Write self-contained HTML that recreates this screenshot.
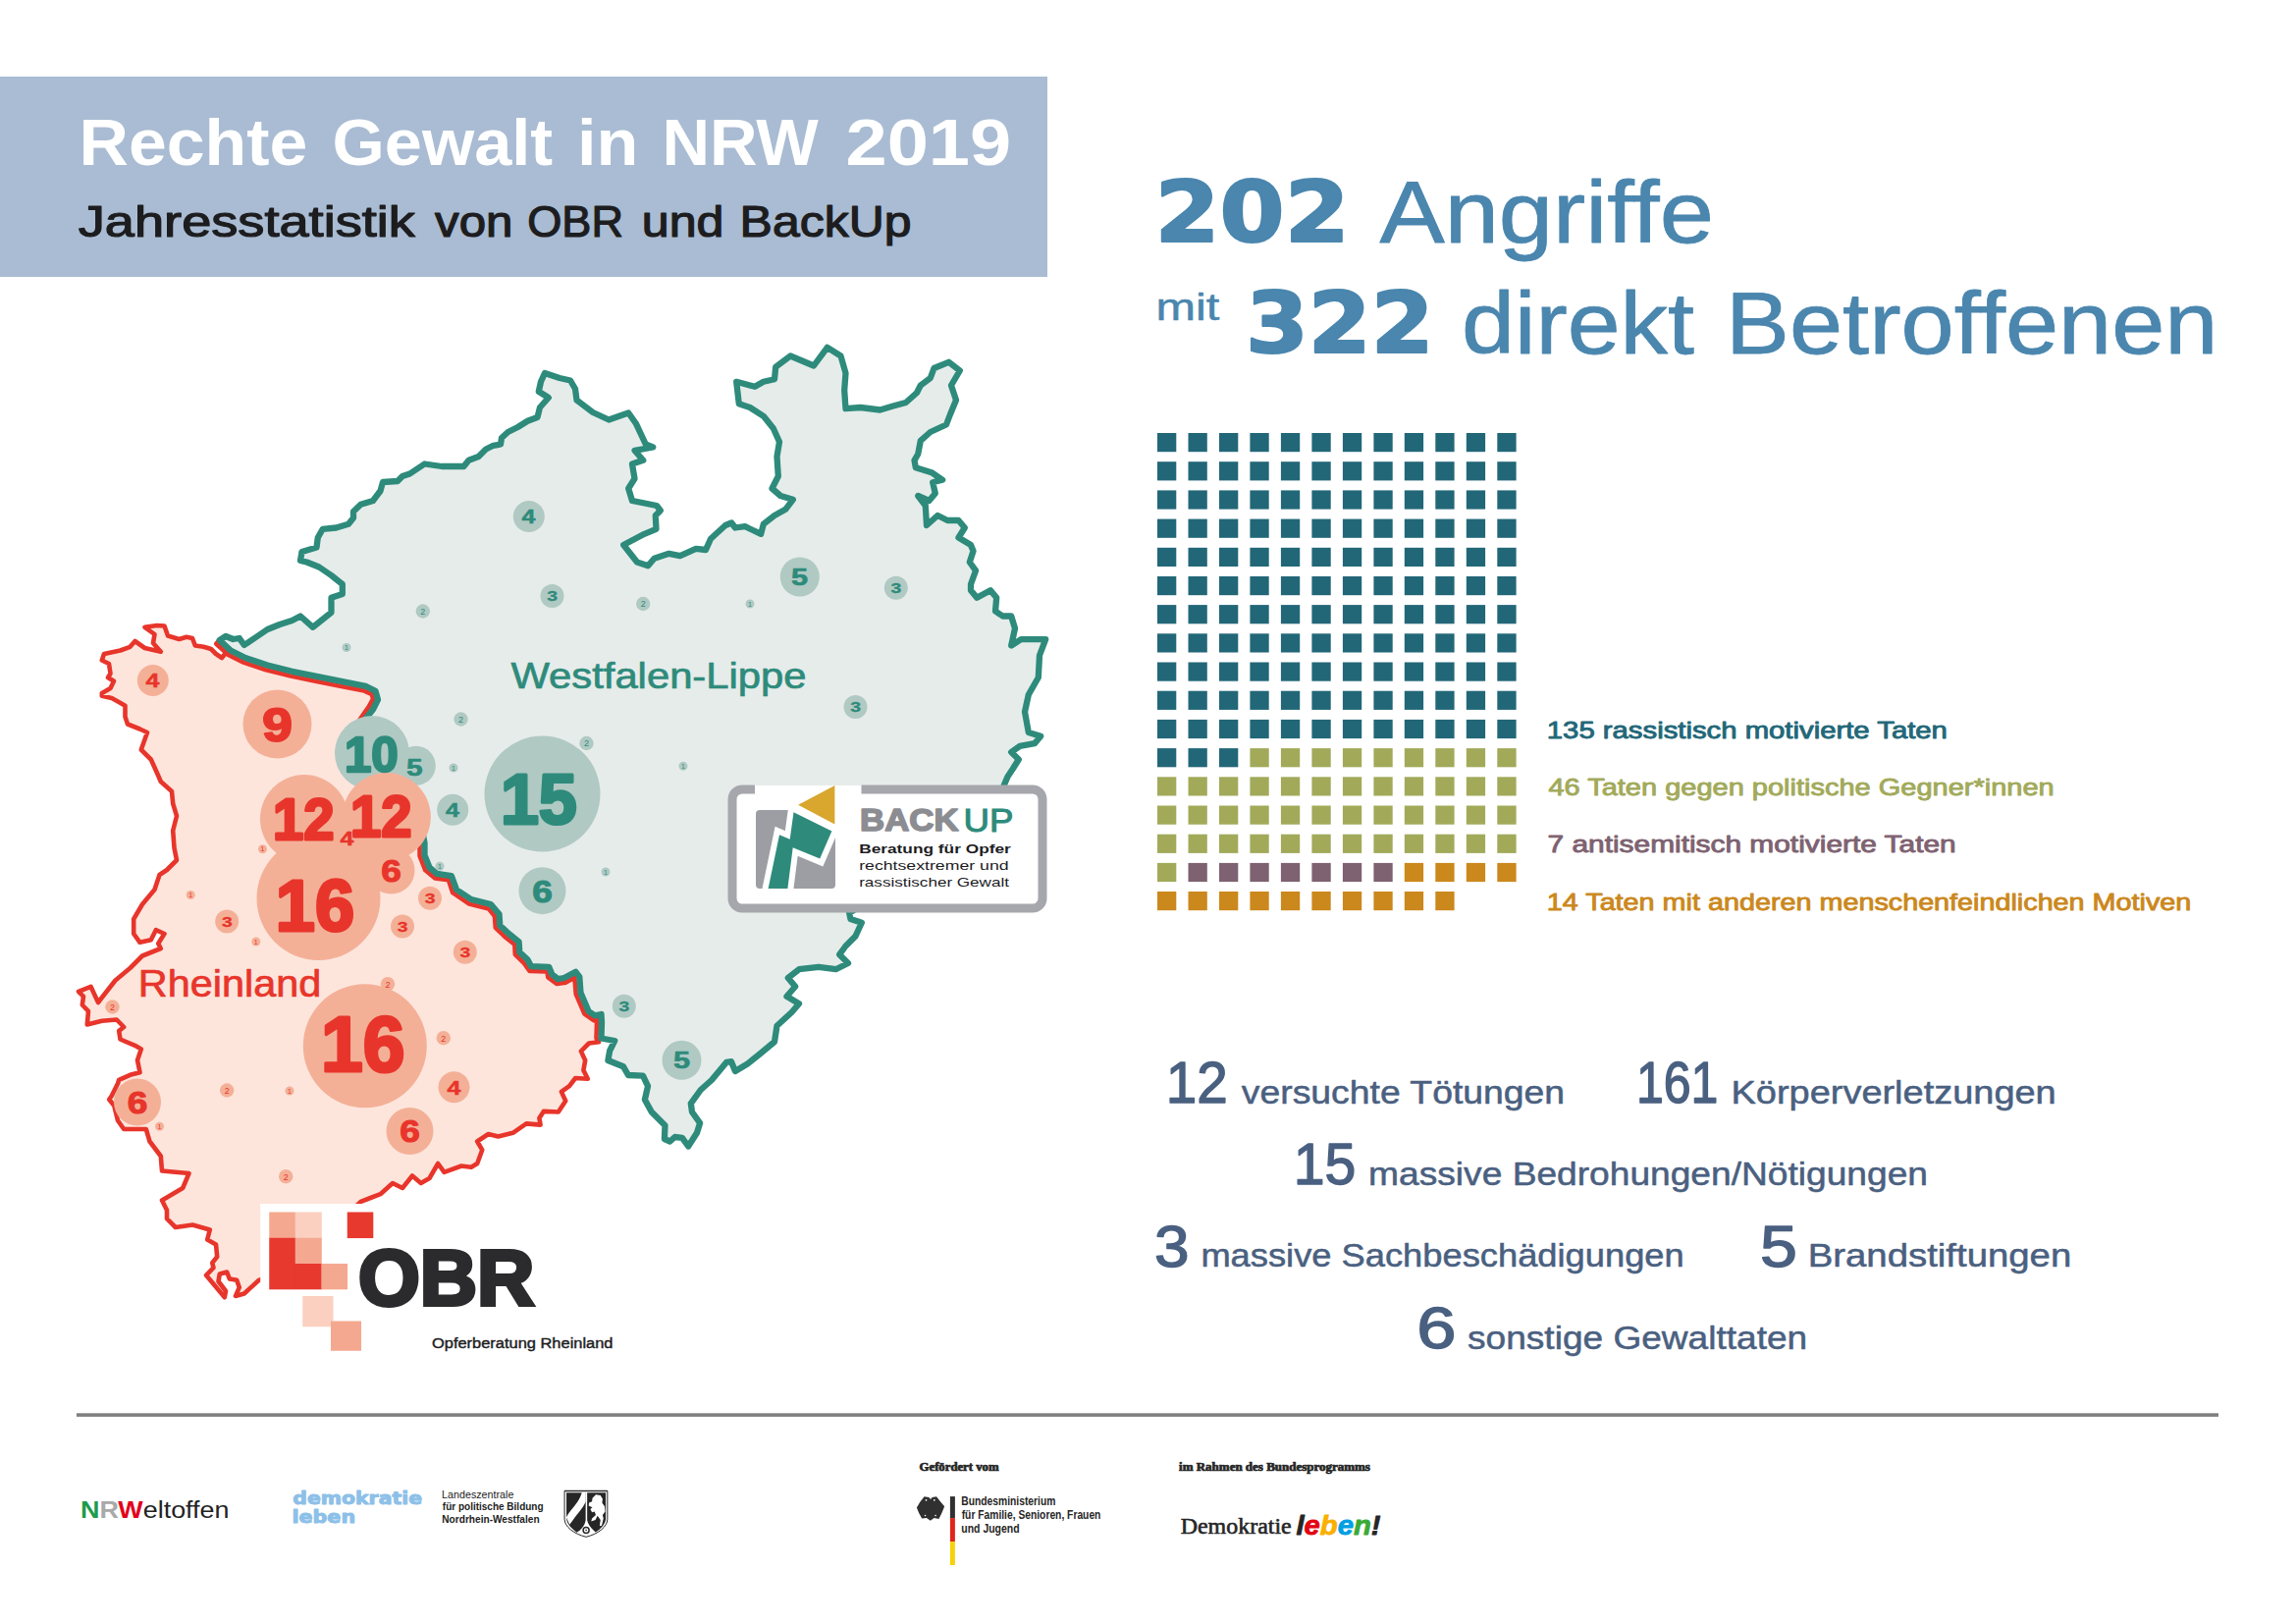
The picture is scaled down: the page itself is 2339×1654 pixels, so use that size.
<!DOCTYPE html>
<html lang="de"><head><meta charset="utf-8"><title>Rechte Gewalt in NRW 2019</title>
<style>html,body{margin:0;padding:0;background:#fff}svg{display:block}</style></head><body>
<svg width="2339" height="1654" viewBox="0 0 2339 1654">
<rect width="2339" height="1654" fill="#fff"/>
<rect x="0" y="78" width="1067" height="204" fill="#a9bcd3"/>
<text x="80.5" y="167.5" font-family="'Liberation Sans', sans-serif" font-size="67" fill="#fff" font-weight="bold" textLength="232.9" lengthAdjust="spacingAndGlyphs">Rechte</text>
<text x="338.5" y="167.5" font-family="'Liberation Sans', sans-serif" font-size="67" fill="#fff" font-weight="bold" textLength="224.6" lengthAdjust="spacingAndGlyphs">Gewalt</text>
<text x="587.9" y="167.5" font-family="'Liberation Sans', sans-serif" font-size="67" fill="#fff" font-weight="bold" textLength="62.4" lengthAdjust="spacingAndGlyphs">in</text>
<text x="674.4" y="167.5" font-family="'Liberation Sans', sans-serif" font-size="67" fill="#fff" font-weight="bold" textLength="159.4" lengthAdjust="spacingAndGlyphs">NRW</text>
<text x="861.5" y="167.5" font-family="'Liberation Sans', sans-serif" font-size="67" fill="#fff" font-weight="bold" textLength="168.7" lengthAdjust="spacingAndGlyphs">2019</text>
<text x="79.8" y="241.4" font-family="'Liberation Sans', sans-serif" font-size="43.82" fill="#1d1d1f" textLength="343.1" lengthAdjust="spacingAndGlyphs" stroke="#1d1d1f" stroke-width="1.2" stroke-linejoin="round">Jahresstatistik</text>
<text x="443.1" y="241.4" font-family="'Liberation Sans', sans-serif" font-size="43.82" fill="#1d1d1f" textLength="79.4" lengthAdjust="spacingAndGlyphs" stroke="#1d1d1f" stroke-width="1.2" stroke-linejoin="round">von</text>
<text x="537.3" y="241.4" font-family="'Liberation Sans', sans-serif" font-size="43.82" fill="#1d1d1f" textLength="97.7" lengthAdjust="spacingAndGlyphs" stroke="#1d1d1f" stroke-width="1.2" stroke-linejoin="round">OBR</text>
<text x="653.8" y="241.4" font-family="'Liberation Sans', sans-serif" font-size="43.82" fill="#1d1d1f" textLength="83.7" lengthAdjust="spacingAndGlyphs" stroke="#1d1d1f" stroke-width="1.2" stroke-linejoin="round">und</text>
<text x="753.6" y="241.4" font-family="'Liberation Sans', sans-serif" font-size="43.82" fill="#1d1d1f" textLength="174.9" lengthAdjust="spacingAndGlyphs" stroke="#1d1d1f" stroke-width="1.2" stroke-linejoin="round">BackUp</text>
<polygon points="222.5,653.0 230.0,665.0 226.0,670.0 220.0,666.0 215.0,661.0 207.5,658.8 198.8,657.5 196.0,650.0 190.0,648.8 182.5,651.0 171.0,647.5 167.5,637.5 160.0,637.0 147.5,638.8 157.5,646.0 156.0,655.0 163.8,663.8 147.5,660.0 137.5,653.0 132.5,658.8 122.5,662.5 106.0,666.0 103.8,672.5 111.0,676.0 112.5,686.0 110.0,690.0 116.0,693.8 112.5,701.0 103.8,706.0 103.8,708.8 113.8,711.0 121.0,715.0 127.5,718.8 127.5,730.0 130.0,737.5 142.5,742.5 150.0,746.0 143.8,763.5 153.8,773.5 160.0,787.2 163.8,796.0 175.0,806.0 176.2,818.5 180.0,831.0 176.2,846.0 177.5,863.5 180.0,876.0 170.0,886.0 162.5,891.0 157.5,906.0 145.0,921.0 136.2,936.0 136.2,951.0 142.5,959.8 153.8,957.2 158.8,947.2 167.5,951.0 161.2,961.0 163.8,966.0 145.0,973.5 132.5,986.0 117.5,998.5 103.8,1016.0 100.0,1021.0 92.5,1004.8 80.0,1009.8 85.0,1014.8 83.8,1023.5 90.0,1029.8 88.8,1043.5 103.8,1039.8 118.8,1038.5 126.2,1046.0 121.2,1049.8 122.5,1058.5 137.5,1064.8 143.8,1068.5 140.0,1079.8 142.5,1092.2 132.5,1094.8 121.2,1099.8 120.0,1103.5 113.8,1116.0 111.2,1119.8 116.2,1126.0 120.0,1141.2 126.2,1150.0 148.8,1150.0 152.5,1162.5 163.8,1177.5 165.0,1192.5 192.5,1195.0 186.2,1210.0 165.0,1222.5 170.0,1232.5 170.0,1241.2 178.8,1250.0 196.2,1247.5 213.8,1252.5 211.2,1262.5 220.0,1267.5 221.2,1280.0 216.2,1286.2 217.5,1291.2 210.0,1298.8 228.8,1321.2 230.0,1315.0 222.5,1305.0 223.8,1297.5 231.2,1295.6 233.8,1302.5 241.2,1303.8 243.8,1311.2 240.0,1320.0 248.8,1317.5 263.8,1303.8 300.0,1290.0 340.0,1250.0 367.5,1223.8 377.5,1220.0 387.5,1216.2 400.0,1205.0 410.0,1210.0 420.0,1197.5 428.8,1205.0 437.5,1200.0 446.2,1185.0 452.5,1193.8 470.0,1187.5 480.0,1188.8 486.2,1185.0 491.2,1171.2 486.2,1162.5 497.5,1155.0 507.5,1157.5 522.5,1153.8 536.2,1144.4 550.6,1145.6 549.4,1138.8 553.8,1131.9 568.8,1132.5 576.2,1121.2 571.9,1111.9 580.0,1106.2 586.2,1098.0 598.8,1098.8 594.4,1090.0 596.2,1080.0 591.9,1070.6 600.0,1062.5 610.0,1061.2 607.5,1057.3 608.0,1041.2 608.9,1036.5 605.1,1039.3 595.4,1032.7 586.7,1012.3 585.4,995.9 586.9,994.8 576.6,1000.6 567.1,1002.0 558.3,995.3 557.4,989.5 539.5,988.9 533.5,980.5 524.8,972.0 524.3,961.8 515.4,955.0 504.8,944.8 503.9,933.0 497.7,925.4 478.0,920.6 461.2,909.2 456.8,896.1 443.2,894.4 433.3,886.3 427.6,872.0 427.5,859.0 425.2,846.5 417.5,827.2 405.7,807.6 390.7,782.6 375.6,757.4 365.0,735.0 375.8,719.7 380.0,711.8 378.8,707.1 371.1,703.6 346.5,698.7 321.5,693.7 296.4,688.6 271.1,682.3 248.1,674.6 232.2,666.6 220.3,655.7" fill="#fde5dc" stroke="#e8352b" stroke-width="4.6" stroke-linejoin="round"/>
<polygon points="223.8,652.0 230.0,648.0 237.5,651.0 243.8,650.0 248.8,657.0 260.0,649.5 272.5,641.0 285.0,636.0 297.5,632.0 306.0,627.5 318.8,638.8 337.5,623.8 337.5,608.8 348.8,605.0 348.8,595.0 337.5,586.0 325.0,577.5 312.5,572.5 306.0,571.0 307.5,562.0 322.5,557.5 323.8,547.5 328.8,538.8 342.5,537.5 355.0,533.8 360.0,527.5 360.0,521.0 367.5,513.8 380.0,510.0 387.5,500.0 390.0,491.0 405.0,490.0 410.0,485.0 417.5,482.5 432.5,472.5 450.0,475.0 472.5,475.0 477.5,468.8 487.5,465.0 495.0,457.5 502.5,453.8 510.0,452.5 511.0,446.0 517.5,440.0 527.5,435.0 537.5,428.8 547.5,425.0 550.0,415.0 558.8,405.0 548.8,398.8 551.0,388.8 555.0,380.0 570.0,385.0 581.0,387.5 586.0,396.0 587.5,407.5 604.0,420.0 620.2,427.5 640.2,420.5 647.8,431.2 657.8,452.5 665.2,455.5 646.5,458.8 655.2,468.8 644.0,472.5 646.5,487.5 640.2,497.5 644.0,510.0 669.0,515.0 672.8,520.0 667.8,525.0 668.5,538.8 656.5,543.8 635.2,555.0 649.0,572.5 660.2,576.2 666.5,568.8 681.5,563.8 692.8,566.2 709.0,558.8 719.0,560.0 724.0,548.8 739.0,535.0 745.2,532.5 749.0,537.5 759.0,536.2 775.2,543.8 777.8,533.8 789.0,525.0 800.2,518.8 807.8,508.8 795.2,505.0 786.5,497.5 792.8,485.0 791.5,465.0 794.0,450.0 787.8,436.2 777.8,423.8 764.0,415.0 752.8,411.2 750.2,388.8 769.0,393.8 777.8,388.8 789.0,386.2 790.2,373.8 805.2,362.5 829.0,372.5 842.8,353.8 856.5,362.5 861.5,380.0 860.2,397.5 861.5,416.2 876.5,415.0 896.5,417.5 909.0,413.8 922.8,410.0 934.0,400.0 937.8,392.5 947.8,385.0 951.5,375.0 966.5,368.8 977.8,377.5 969.0,392.5 974.0,407.5 967.8,422.5 964.0,432.5 947.8,440.0 937.8,448.8 935.2,462.5 931.5,468.8 932.8,476.2 949.0,481.2 960.2,488.8 950.2,491.2 952.8,502.5 946.5,510.0 935.2,505.0 942.8,515.0 944.0,535.0 955.2,525.0 965.2,530.0 976.5,530.0 982.8,537.5 976.5,547.5 989.0,555.0 991.5,561.2 987.8,572.5 994.0,581.2 989.0,595.0 989.0,601.2 995.2,608.8 1009.0,601.2 1015.2,608.8 1014.0,622.5 1021.5,627.5 1030.2,627.5 1034.0,640.0 1030.2,657.5 1040.2,651.2 1065.2,651.2 1059.0,667.5 1057.8,690.0 1047.8,707.5 1044.0,725.0 1047.8,746.0 1060.2,749.8 1054.0,757.2 1039.0,759.8 1030.2,766.0 1037.8,773.5 1031.5,783.5 1026.5,791.0 1022.8,799.8 1015.0,830.0 985.0,870.0 935.0,900.0 890.0,915.0 865.2,929.8 866.5,936.0 877.8,939.8 871.5,953.5 861.5,963.5 855.2,972.2 864.0,981.0 851.5,987.2 834.0,984.8 814.0,987.2 802.8,996.0 810.2,1004.8 801.5,1014.8 814.0,1022.2 806.5,1031.0 791.5,1044.8 789.0,1061.0 774.0,1073.5 761.5,1083.5 749.0,1091.0 745.0,1081.2 740.0,1081.9 725.0,1100.0 713.8,1110.0 703.8,1123.8 705.0,1132.5 713.1,1143.8 710.0,1153.8 701.2,1167.5 695.0,1158.8 687.5,1158.0 682.5,1162.5 676.9,1160.0 677.5,1146.2 663.8,1132.5 656.9,1120.0 660.0,1106.2 655.0,1095.6 640.0,1095.0 635.0,1086.2 619.4,1080.0 621.2,1070.0 626.2,1060.0 612.5,1057.5 613.0,1041.2 612.5,1033.0 606.2,1034.4 599.6,1030.0 591.5,1011.0 590.3,994.8 586.5,989.8 574.7,996.0 568.5,997.2 562.3,992.3 559.2,984.8 541.1,984.2 537.4,977.3 529.3,969.8 528.6,959.3 518.7,951.2 509.3,942.5 508.5,931.0 500.0,921.0 480.0,916.0 465.0,906.0 460.0,892.2 445.0,889.8 437.5,883.5 432.5,871.0 432.5,858.5 430.0,845.0 422.0,825.0 410.0,805.0 395.0,780.0 380.0,755.0 370.0,735.0 380.0,722.5 385.0,712.5 382.5,703.8 372.5,698.8 347.5,693.8 322.5,688.8 297.5,683.8 272.5,677.5 250.0,670.0 235.0,662.5 223.8,652.0" fill="#e6ecea" stroke="#2e8b7b" stroke-width="6.3" stroke-linejoin="round"/>
<circle cx="538.8" cy="526.0" r="16" fill="#b0c9c3"/>
<circle cx="562.5" cy="607.0" r="12" fill="#b0c9c3"/>
<circle cx="430.8" cy="622.5" r="7.2" fill="#b0c9c3"/>
<circle cx="353.0" cy="659.5" r="4.5" fill="#b0c9c3"/>
<circle cx="469.5" cy="732.5" r="7.2" fill="#b0c9c3"/>
<circle cx="814.8" cy="587.5" r="20" fill="#b0c9c3"/>
<circle cx="912.8" cy="598.8" r="12" fill="#b0c9c3"/>
<circle cx="655.2" cy="615.0" r="7.2" fill="#b0c9c3"/>
<circle cx="764.0" cy="615.0" r="4.5" fill="#b0c9c3"/>
<circle cx="871.5" cy="720.0" r="12" fill="#b0c9c3"/>
<circle cx="379.0" cy="767.0" r="38" fill="#b0c9c3"/>
<circle cx="423.8" cy="779.8" r="20" fill="#b0c9c3"/>
<circle cx="462.0" cy="782.0" r="4.5" fill="#b0c9c3"/>
<circle cx="552.5" cy="808.5" r="59" fill="#b0c9c3"/>
<circle cx="597.5" cy="757.0" r="7.2" fill="#b0c9c3"/>
<circle cx="461.2" cy="824.8" r="16" fill="#b0c9c3"/>
<circle cx="552.5" cy="907.2" r="24" fill="#b0c9c3"/>
<circle cx="448.0" cy="882.2" r="4.5" fill="#b0c9c3"/>
<circle cx="617.0" cy="888.0" r="4.5" fill="#b0c9c3"/>
<circle cx="696.0" cy="780.2" r="4.5" fill="#b0c9c3"/>
<circle cx="635.8" cy="1024.8" r="12" fill="#b0c9c3"/>
<circle cx="694.5" cy="1079.8" r="20" fill="#b0c9c3"/>
<circle cx="155.8" cy="693.0" r="16" fill="#f4b097"/>
<circle cx="282.5" cy="737.5" r="35" fill="#f4b097"/>
<circle cx="310.0" cy="834.0" r="45" fill="#f4b097"/>
<circle cx="393.8" cy="832.0" r="45" fill="#f4b097"/>
<circle cx="353.8" cy="853.5" r="16" fill="#f4b097"/>
<circle cx="267.5" cy="864.8" r="4.5" fill="#f4b097"/>
<circle cx="398.5" cy="886.5" r="24" fill="#f4b097"/>
<circle cx="324.5" cy="915.0" r="63" fill="#f4b097"/>
<circle cx="438.0" cy="914.8" r="12" fill="#f4b097"/>
<circle cx="410.0" cy="943.5" r="12" fill="#f4b097"/>
<circle cx="231.2" cy="938.5" r="12" fill="#f4b097"/>
<circle cx="473.8" cy="969.8" r="12" fill="#f4b097"/>
<circle cx="194.2" cy="911.5" r="4.5" fill="#f4b097"/>
<circle cx="260.8" cy="959.0" r="4.5" fill="#f4b097"/>
<circle cx="395.0" cy="1002.2" r="7.2" fill="#f4b097"/>
<circle cx="371.8" cy="1065.2" r="63" fill="#f4b097"/>
<circle cx="114.5" cy="1025.5" r="7.2" fill="#f4b097"/>
<circle cx="451.8" cy="1057.2" r="7.2" fill="#f4b097"/>
<circle cx="462.5" cy="1107.2" r="16" fill="#f4b097"/>
<circle cx="231.2" cy="1110.5" r="7.2" fill="#f4b097"/>
<circle cx="295.0" cy="1111.0" r="4.5" fill="#f4b097"/>
<circle cx="140.0" cy="1122.5" r="24" fill="#f4b097"/>
<circle cx="417.5" cy="1152.0" r="24" fill="#f4b097"/>
<circle cx="162.5" cy="1147.2" r="4.5" fill="#f4b097"/>
<circle cx="291.2" cy="1198.2" r="7.2" fill="#f4b097"/>
<circle cx="370" cy="870" r="15" fill="#f4b097"/>
<text x="531.6" y="533.2" font-family="'Liberation Sans', sans-serif" font-size="19.86" fill="#2e8b7b" font-weight="bold" textLength="13.9" lengthAdjust="spacingAndGlyphs" stroke="#2e8b7b" stroke-width="0.5" stroke-linejoin="round">4</text>
<text x="557.3" y="612.1" font-family="'Liberation Sans', sans-serif" font-size="13.97" fill="#2e8b7b" font-weight="bold" textLength="10.8" lengthAdjust="spacingAndGlyphs" stroke="#2e8b7b" stroke-width="0.3" stroke-linejoin="round">3</text>
<text x="430.8" y="625.7" font-family="'Liberation Sans', sans-serif" font-size="9" fill="#2e8b7b" text-anchor="middle">2</text>
<text x="353.0" y="662.0" font-family="'Liberation Sans', sans-serif" font-size="7" fill="#2e8b7b" text-anchor="middle">1</text>
<text x="469.5" y="735.7" font-family="'Liberation Sans', sans-serif" font-size="9" fill="#2e8b7b" text-anchor="middle">2</text>
<text x="806.1" y="596.1" font-family="'Liberation Sans', sans-serif" font-size="23.56" fill="#2e8b7b" font-weight="bold" textLength="17.1" lengthAdjust="spacingAndGlyphs" stroke="#2e8b7b" stroke-width="0.6" stroke-linejoin="round">5</text>
<text x="907.5" y="603.9" font-family="'Liberation Sans', sans-serif" font-size="13.97" fill="#2e8b7b" font-weight="bold" textLength="10.8" lengthAdjust="spacingAndGlyphs" stroke="#2e8b7b" stroke-width="0.3" stroke-linejoin="round">3</text>
<text x="655.2" y="618.2" font-family="'Liberation Sans', sans-serif" font-size="9" fill="#2e8b7b" text-anchor="middle">2</text>
<text x="764.0" y="617.5" font-family="'Liberation Sans', sans-serif" font-size="7" fill="#2e8b7b" text-anchor="middle">1</text>
<text x="866.3" y="725.1" font-family="'Liberation Sans', sans-serif" font-size="13.97" fill="#2e8b7b" font-weight="bold" textLength="10.8" lengthAdjust="spacingAndGlyphs" stroke="#2e8b7b" stroke-width="0.3" stroke-linejoin="round">3</text>
<text x="350.9" y="786.2" font-family="'Liberation Sans', sans-serif" font-size="49.32" fill="#2e8b7b" font-weight="bold" textLength="54.8" lengthAdjust="spacingAndGlyphs" stroke="#2e8b7b" stroke-width="2.4" stroke-linejoin="round">10</text>
<text x="413.9" y="789.5" font-family="'Liberation Sans', sans-serif" font-size="23.15" fill="#2e8b7b" font-weight="bold" textLength="16.6" lengthAdjust="spacingAndGlyphs" stroke="#2e8b7b" stroke-width="0.6" stroke-linejoin="round">5</text>
<text x="462.0" y="784.5" font-family="'Liberation Sans', sans-serif" font-size="7" fill="#2e8b7b" text-anchor="middle">1</text>
<text x="509.9" y="839.4" font-family="'Liberation Sans', sans-serif" font-size="72.67" fill="#2e8b7b" font-weight="bold" textLength="77.9" lengthAdjust="spacingAndGlyphs" stroke="#2e8b7b" stroke-width="3.2" stroke-linejoin="round">15</text>
<text x="597.5" y="760.2" font-family="'Liberation Sans', sans-serif" font-size="9" fill="#2e8b7b" text-anchor="middle">2</text>
<text x="454.1" y="832.0" font-family="'Liberation Sans', sans-serif" font-size="19.86" fill="#2e8b7b" font-weight="bold" textLength="13.9" lengthAdjust="spacingAndGlyphs" stroke="#2e8b7b" stroke-width="0.5" stroke-linejoin="round">4</text>
<text x="542.2" y="918.5" font-family="'Liberation Sans', sans-serif" font-size="30.82" fill="#2e8b7b" font-weight="bold" textLength="20.6" lengthAdjust="spacingAndGlyphs" stroke="#2e8b7b" stroke-width="1" stroke-linejoin="round">6</text>
<text x="448.0" y="884.8" font-family="'Liberation Sans', sans-serif" font-size="7" fill="#2e8b7b" text-anchor="middle">1</text>
<text x="617.0" y="890.5" font-family="'Liberation Sans', sans-serif" font-size="7" fill="#2e8b7b" text-anchor="middle">1</text>
<text x="696.0" y="782.8" font-family="'Liberation Sans', sans-serif" font-size="7" fill="#2e8b7b" text-anchor="middle">1</text>
<text x="630.5" y="1029.8" font-family="'Liberation Sans', sans-serif" font-size="13.97" fill="#2e8b7b" font-weight="bold" textLength="10.8" lengthAdjust="spacingAndGlyphs" stroke="#2e8b7b" stroke-width="0.3" stroke-linejoin="round">3</text>
<text x="685.9" y="1088.4" font-family="'Liberation Sans', sans-serif" font-size="23.56" fill="#2e8b7b" font-weight="bold" textLength="17.1" lengthAdjust="spacingAndGlyphs" stroke="#2e8b7b" stroke-width="0.6" stroke-linejoin="round">5</text>
<text x="148.6" y="700.2" font-family="'Liberation Sans', sans-serif" font-size="19.86" fill="#e8352b" font-weight="bold" textLength="13.9" lengthAdjust="spacingAndGlyphs" stroke="#e8352b" stroke-width="0.5" stroke-linejoin="round">4</text>
<text x="267.3" y="754.8" font-family="'Liberation Sans', sans-serif" font-size="47.26" fill="#e8352b" font-weight="bold" textLength="30.6" lengthAdjust="spacingAndGlyphs" stroke="#e8352b" stroke-width="2" stroke-linejoin="round">9</text>
<text x="278.1" y="854.5" font-family="'Liberation Sans', sans-serif" font-size="59.25" fill="#e8352b" font-weight="bold" textLength="62.5" lengthAdjust="spacingAndGlyphs" stroke="#e8352b" stroke-width="3" stroke-linejoin="round">12</text>
<text x="356.9" y="852.0" font-family="'Liberation Sans', sans-serif" font-size="59.25" fill="#e8352b" font-weight="bold" textLength="62.5" lengthAdjust="spacingAndGlyphs" stroke="#e8352b" stroke-width="3" stroke-linejoin="round">12</text>
<text x="346.6" y="860.8" font-family="'Liberation Sans', sans-serif" font-size="19.86" fill="#e8352b" font-weight="bold" textLength="13.9" lengthAdjust="spacingAndGlyphs" stroke="#e8352b" stroke-width="0.5" stroke-linejoin="round">4</text>
<text x="267.5" y="867.3" font-family="'Liberation Sans', sans-serif" font-size="7" fill="#e8352b" text-anchor="middle">1</text>
<text x="388.2" y="897.8" font-family="'Liberation Sans', sans-serif" font-size="30.82" fill="#e8352b" font-weight="bold" textLength="20.6" lengthAdjust="spacingAndGlyphs" stroke="#e8352b" stroke-width="1" stroke-linejoin="round">6</text>
<text x="280.8" y="948.4" font-family="'Liberation Sans', sans-serif" font-size="74.79" fill="#e8352b" font-weight="bold" textLength="80.3" lengthAdjust="spacingAndGlyphs" stroke="#e8352b" stroke-width="3.2" stroke-linejoin="round">16</text>
<text x="432.8" y="919.9" font-family="'Liberation Sans', sans-serif" font-size="13.97" fill="#e8352b" font-weight="bold" textLength="10.8" lengthAdjust="spacingAndGlyphs" stroke="#e8352b" stroke-width="0.3" stroke-linejoin="round">3</text>
<text x="404.8" y="948.6" font-family="'Liberation Sans', sans-serif" font-size="13.97" fill="#e8352b" font-weight="bold" textLength="10.8" lengthAdjust="spacingAndGlyphs" stroke="#e8352b" stroke-width="0.3" stroke-linejoin="round">3</text>
<text x="226.0" y="943.6" font-family="'Liberation Sans', sans-serif" font-size="13.97" fill="#e8352b" font-weight="bold" textLength="10.8" lengthAdjust="spacingAndGlyphs" stroke="#e8352b" stroke-width="0.3" stroke-linejoin="round">3</text>
<text x="468.5" y="974.9" font-family="'Liberation Sans', sans-serif" font-size="13.97" fill="#e8352b" font-weight="bold" textLength="10.8" lengthAdjust="spacingAndGlyphs" stroke="#e8352b" stroke-width="0.3" stroke-linejoin="round">3</text>
<text x="194.2" y="914.0" font-family="'Liberation Sans', sans-serif" font-size="7" fill="#e8352b" text-anchor="middle">1</text>
<text x="260.8" y="961.5" font-family="'Liberation Sans', sans-serif" font-size="7" fill="#e8352b" text-anchor="middle">1</text>
<text x="395.0" y="1005.5" font-family="'Liberation Sans', sans-serif" font-size="9" fill="#e8352b" text-anchor="middle">2</text>
<text x="327.0" y="1090.7" font-family="'Liberation Sans', sans-serif" font-size="79.52" fill="#e8352b" font-weight="bold" textLength="85.5" lengthAdjust="spacingAndGlyphs" stroke="#e8352b" stroke-width="3.2" stroke-linejoin="round">16</text>
<text x="114.5" y="1028.7" font-family="'Liberation Sans', sans-serif" font-size="9" fill="#e8352b" text-anchor="middle">2</text>
<text x="451.8" y="1060.5" font-family="'Liberation Sans', sans-serif" font-size="9" fill="#e8352b" text-anchor="middle">2</text>
<text x="455.4" y="1114.5" font-family="'Liberation Sans', sans-serif" font-size="19.86" fill="#e8352b" font-weight="bold" textLength="13.9" lengthAdjust="spacingAndGlyphs" stroke="#e8352b" stroke-width="0.5" stroke-linejoin="round">4</text>
<text x="231.2" y="1113.7" font-family="'Liberation Sans', sans-serif" font-size="9" fill="#e8352b" text-anchor="middle">2</text>
<text x="295.0" y="1113.5" font-family="'Liberation Sans', sans-serif" font-size="7" fill="#e8352b" text-anchor="middle">1</text>
<text x="129.7" y="1133.8" font-family="'Liberation Sans', sans-serif" font-size="30.82" fill="#e8352b" font-weight="bold" textLength="20.6" lengthAdjust="spacingAndGlyphs" stroke="#e8352b" stroke-width="1" stroke-linejoin="round">6</text>
<text x="407.2" y="1163.2" font-family="'Liberation Sans', sans-serif" font-size="30.82" fill="#e8352b" font-weight="bold" textLength="20.6" lengthAdjust="spacingAndGlyphs" stroke="#e8352b" stroke-width="1" stroke-linejoin="round">6</text>
<text x="162.5" y="1149.8" font-family="'Liberation Sans', sans-serif" font-size="7" fill="#e8352b" text-anchor="middle">1</text>
<text x="291.2" y="1201.5" font-family="'Liberation Sans', sans-serif" font-size="9" fill="#e8352b" text-anchor="middle">2</text>
<text x="520.4" y="700.6" font-family="'Liberation Sans', sans-serif" font-size="37.02" fill="#2e8b7b" textLength="301.1" lengthAdjust="spacingAndGlyphs" stroke="#2e8b7b" stroke-width="0.7" stroke-linejoin="round">Westfalen-Lippe</text>
<text x="140.8" y="1014.6" font-family="'Liberation Sans', sans-serif" font-size="38.02" fill="#e8352b" textLength="186.5" lengthAdjust="spacingAndGlyphs" stroke="#e8352b" stroke-width="0.7" stroke-linejoin="round">Rheinland</text>
<g>
<rect x="746" y="804" width="316" height="121" rx="10" ry="10" fill="#fff" stroke="#a6a7ac" stroke-width="9"/>
<rect x="769" y="799.4" width="108.5" height="10.6" fill="#fff"/>
<rect x="770" y="825" width="81" height="80" rx="4" fill="#9d9ea3"/>
<polygon points="801.6,823.8 852,823.8 852,854.8 847.7,846.7 808.5,827.3" fill="#fff"/>
<polygon points="813.1,819.7 850.4,799.9 850.4,839.5" fill="#d9a62e"/>
<polygon points="808.5,827.3 847.4,846.4 835.2,874.6 807.7,863.2 802.4,905.1 782.6,905.1 794,850.2 804.7,854.8" fill="#2e8b7b" stroke="#fff" stroke-width="12" paint-order="stroke" stroke-linejoin="miter"/>
<rect x="760" y="905.2" width="100" height="8" fill="#fff"/>
<text x="876.1" y="846.4" font-family="'Liberation Sans', sans-serif" font-size="32" fill="#8c8d92" font-weight="bold" textLength="100.4" lengthAdjust="spacingAndGlyphs" stroke="#8c8d92" stroke-width="1.6" stroke-linejoin="round">BACK</text>
<text x="981.5" y="846.7" font-family="'Liberation Sans', sans-serif" font-size="33" fill="#2e8b7b" textLength="50.9" lengthAdjust="spacingAndGlyphs" stroke="#2e8b7b" stroke-width="1">UP</text>
<text x="875.2" y="868.5" font-family="'Liberation Sans', sans-serif" font-size="12.2" fill="#1d1d1f" font-weight="bold" textLength="154.6" lengthAdjust="spacingAndGlyphs">Beratung für Opfer</text>
<text x="875.2" y="886.3" font-family="'Liberation Sans', sans-serif" font-size="12.6" fill="#1d1d1f" textLength="152.4" lengthAdjust="spacingAndGlyphs">rechtsextremer und</text>
<text x="875.2" y="902.8" font-family="'Liberation Sans', sans-serif" font-size="12.6" fill="#1d1d1f" textLength="152.8" lengthAdjust="spacingAndGlyphs">rassistischer Gewalt</text>
</g>
<rect x="265.2" y="1226" width="118" height="91" fill="#fff"/>
<rect x="274.25" y="1234.5" width="26.80" height="26.55" fill="#f5a890"/>
<rect x="300.75" y="1234.5" width="27.05" height="26.55" fill="#fbd0c0"/>
<rect x="353.75" y="1234.5" width="26.55" height="26.55" fill="#e8392f"/>
<rect x="274.25" y="1260.75" width="26.80" height="26.55" fill="#e8392f"/>
<rect x="300.75" y="1260.75" width="27.05" height="26.55" fill="#f5a890"/>
<rect x="274.25" y="1287" width="26.80" height="26.30" fill="#e8392f"/>
<rect x="300.75" y="1287" width="27.05" height="26.30" fill="#e8392f"/>
<rect x="327.5" y="1287" width="26.55" height="26.30" fill="#f5a890"/>
<rect x="308.25" y="1320" width="31.25" height="31.25" fill="#fbd0c0"/>
<rect x="337" y="1345.5" width="31" height="30.25" fill="#f5a890"/>
<text x="365.0" y="1329.3" font-family="'Liberation Sans', sans-serif" font-size="79.5" fill="#2b2b2d" font-weight="bold" textLength="179.4" lengthAdjust="spacingAndGlyphs" stroke="#2b2b2d" stroke-width="4" stroke-linejoin="miter">OBR</text>
<text x="440.0" y="1372.8" font-family="'Liberation Sans', sans-serif" font-size="14.44" fill="#1d1d1f" textLength="184.5" lengthAdjust="spacingAndGlyphs" stroke="#1d1d1f" stroke-width="0.4" stroke-linejoin="round">Opferberatung Rheinland</text>
<text x="1176.5" y="246.4" font-family="'DejaVu Sans', 'Liberation Sans', sans-serif" font-size="85.98" fill="#4a86ae" font-weight="bold" textLength="198.2" lengthAdjust="spacingAndGlyphs" stroke="#4a86ae" stroke-width="2.2" stroke-linejoin="round">202</text>
<text x="1405.4" y="247.1" font-family="'Liberation Sans', sans-serif" font-size="89.38" fill="#4a86ae" textLength="340.5" lengthAdjust="spacingAndGlyphs" stroke="#4a86ae" stroke-width="0.8" stroke-linejoin="round">Angriffe</text>
<text x="1177.6" y="326.0" font-family="'Liberation Sans', sans-serif" font-size="38.3" fill="#4a86ae" textLength="64.8" lengthAdjust="spacingAndGlyphs" stroke="#4a86ae" stroke-width="0.5" stroke-linejoin="round">mit</text>
<text x="1268.9" y="358.9" font-family="'DejaVu Sans', 'Liberation Sans', sans-serif" font-size="85.98" fill="#4a86ae" font-weight="bold" textLength="191.8" lengthAdjust="spacingAndGlyphs" stroke="#4a86ae" stroke-width="2.2" stroke-linejoin="round">322</text>
<text x="1489.0" y="359.6" font-family="'Liberation Sans', sans-serif" font-size="89.38" fill="#4a86ae" textLength="236.9" lengthAdjust="spacingAndGlyphs" stroke="#4a86ae" stroke-width="0.8" stroke-linejoin="round">direkt</text>
<text x="1758.1" y="359.6" font-family="'Liberation Sans', sans-serif" font-size="89.38" fill="#4a86ae" textLength="501.3" lengthAdjust="spacingAndGlyphs" stroke="#4a86ae" stroke-width="0.8" stroke-linejoin="round">Betroffenen</text>
<rect x="1179.0" y="441.0" width="19.3" height="19.2" fill="#226778"/>
<rect x="1210.5" y="441.0" width="19.3" height="19.2" fill="#226778"/>
<rect x="1242.0" y="441.0" width="19.3" height="19.2" fill="#226778"/>
<rect x="1273.4" y="441.0" width="19.3" height="19.2" fill="#226778"/>
<rect x="1304.9" y="441.0" width="19.3" height="19.2" fill="#226778"/>
<rect x="1336.4" y="441.0" width="19.3" height="19.2" fill="#226778"/>
<rect x="1367.9" y="441.0" width="19.3" height="19.2" fill="#226778"/>
<rect x="1399.4" y="441.0" width="19.3" height="19.2" fill="#226778"/>
<rect x="1430.8" y="441.0" width="19.3" height="19.2" fill="#226778"/>
<rect x="1462.3" y="441.0" width="19.3" height="19.2" fill="#226778"/>
<rect x="1493.8" y="441.0" width="19.3" height="19.2" fill="#226778"/>
<rect x="1525.3" y="441.0" width="19.3" height="19.2" fill="#226778"/>
<rect x="1179.0" y="470.2" width="19.3" height="19.2" fill="#226778"/>
<rect x="1210.5" y="470.2" width="19.3" height="19.2" fill="#226778"/>
<rect x="1242.0" y="470.2" width="19.3" height="19.2" fill="#226778"/>
<rect x="1273.4" y="470.2" width="19.3" height="19.2" fill="#226778"/>
<rect x="1304.9" y="470.2" width="19.3" height="19.2" fill="#226778"/>
<rect x="1336.4" y="470.2" width="19.3" height="19.2" fill="#226778"/>
<rect x="1367.9" y="470.2" width="19.3" height="19.2" fill="#226778"/>
<rect x="1399.4" y="470.2" width="19.3" height="19.2" fill="#226778"/>
<rect x="1430.8" y="470.2" width="19.3" height="19.2" fill="#226778"/>
<rect x="1462.3" y="470.2" width="19.3" height="19.2" fill="#226778"/>
<rect x="1493.8" y="470.2" width="19.3" height="19.2" fill="#226778"/>
<rect x="1525.3" y="470.2" width="19.3" height="19.2" fill="#226778"/>
<rect x="1179.0" y="499.4" width="19.3" height="19.2" fill="#226778"/>
<rect x="1210.5" y="499.4" width="19.3" height="19.2" fill="#226778"/>
<rect x="1242.0" y="499.4" width="19.3" height="19.2" fill="#226778"/>
<rect x="1273.4" y="499.4" width="19.3" height="19.2" fill="#226778"/>
<rect x="1304.9" y="499.4" width="19.3" height="19.2" fill="#226778"/>
<rect x="1336.4" y="499.4" width="19.3" height="19.2" fill="#226778"/>
<rect x="1367.9" y="499.4" width="19.3" height="19.2" fill="#226778"/>
<rect x="1399.4" y="499.4" width="19.3" height="19.2" fill="#226778"/>
<rect x="1430.8" y="499.4" width="19.3" height="19.2" fill="#226778"/>
<rect x="1462.3" y="499.4" width="19.3" height="19.2" fill="#226778"/>
<rect x="1493.8" y="499.4" width="19.3" height="19.2" fill="#226778"/>
<rect x="1525.3" y="499.4" width="19.3" height="19.2" fill="#226778"/>
<rect x="1179.0" y="528.6" width="19.3" height="19.2" fill="#226778"/>
<rect x="1210.5" y="528.6" width="19.3" height="19.2" fill="#226778"/>
<rect x="1242.0" y="528.6" width="19.3" height="19.2" fill="#226778"/>
<rect x="1273.4" y="528.6" width="19.3" height="19.2" fill="#226778"/>
<rect x="1304.9" y="528.6" width="19.3" height="19.2" fill="#226778"/>
<rect x="1336.4" y="528.6" width="19.3" height="19.2" fill="#226778"/>
<rect x="1367.9" y="528.6" width="19.3" height="19.2" fill="#226778"/>
<rect x="1399.4" y="528.6" width="19.3" height="19.2" fill="#226778"/>
<rect x="1430.8" y="528.6" width="19.3" height="19.2" fill="#226778"/>
<rect x="1462.3" y="528.6" width="19.3" height="19.2" fill="#226778"/>
<rect x="1493.8" y="528.6" width="19.3" height="19.2" fill="#226778"/>
<rect x="1525.3" y="528.6" width="19.3" height="19.2" fill="#226778"/>
<rect x="1179.0" y="557.8" width="19.3" height="19.2" fill="#226778"/>
<rect x="1210.5" y="557.8" width="19.3" height="19.2" fill="#226778"/>
<rect x="1242.0" y="557.8" width="19.3" height="19.2" fill="#226778"/>
<rect x="1273.4" y="557.8" width="19.3" height="19.2" fill="#226778"/>
<rect x="1304.9" y="557.8" width="19.3" height="19.2" fill="#226778"/>
<rect x="1336.4" y="557.8" width="19.3" height="19.2" fill="#226778"/>
<rect x="1367.9" y="557.8" width="19.3" height="19.2" fill="#226778"/>
<rect x="1399.4" y="557.8" width="19.3" height="19.2" fill="#226778"/>
<rect x="1430.8" y="557.8" width="19.3" height="19.2" fill="#226778"/>
<rect x="1462.3" y="557.8" width="19.3" height="19.2" fill="#226778"/>
<rect x="1493.8" y="557.8" width="19.3" height="19.2" fill="#226778"/>
<rect x="1525.3" y="557.8" width="19.3" height="19.2" fill="#226778"/>
<rect x="1179.0" y="587.0" width="19.3" height="19.2" fill="#226778"/>
<rect x="1210.5" y="587.0" width="19.3" height="19.2" fill="#226778"/>
<rect x="1242.0" y="587.0" width="19.3" height="19.2" fill="#226778"/>
<rect x="1273.4" y="587.0" width="19.3" height="19.2" fill="#226778"/>
<rect x="1304.9" y="587.0" width="19.3" height="19.2" fill="#226778"/>
<rect x="1336.4" y="587.0" width="19.3" height="19.2" fill="#226778"/>
<rect x="1367.9" y="587.0" width="19.3" height="19.2" fill="#226778"/>
<rect x="1399.4" y="587.0" width="19.3" height="19.2" fill="#226778"/>
<rect x="1430.8" y="587.0" width="19.3" height="19.2" fill="#226778"/>
<rect x="1462.3" y="587.0" width="19.3" height="19.2" fill="#226778"/>
<rect x="1493.8" y="587.0" width="19.3" height="19.2" fill="#226778"/>
<rect x="1525.3" y="587.0" width="19.3" height="19.2" fill="#226778"/>
<rect x="1179.0" y="616.1" width="19.3" height="19.2" fill="#226778"/>
<rect x="1210.5" y="616.1" width="19.3" height="19.2" fill="#226778"/>
<rect x="1242.0" y="616.1" width="19.3" height="19.2" fill="#226778"/>
<rect x="1273.4" y="616.1" width="19.3" height="19.2" fill="#226778"/>
<rect x="1304.9" y="616.1" width="19.3" height="19.2" fill="#226778"/>
<rect x="1336.4" y="616.1" width="19.3" height="19.2" fill="#226778"/>
<rect x="1367.9" y="616.1" width="19.3" height="19.2" fill="#226778"/>
<rect x="1399.4" y="616.1" width="19.3" height="19.2" fill="#226778"/>
<rect x="1430.8" y="616.1" width="19.3" height="19.2" fill="#226778"/>
<rect x="1462.3" y="616.1" width="19.3" height="19.2" fill="#226778"/>
<rect x="1493.8" y="616.1" width="19.3" height="19.2" fill="#226778"/>
<rect x="1525.3" y="616.1" width="19.3" height="19.2" fill="#226778"/>
<rect x="1179.0" y="645.3" width="19.3" height="19.2" fill="#226778"/>
<rect x="1210.5" y="645.3" width="19.3" height="19.2" fill="#226778"/>
<rect x="1242.0" y="645.3" width="19.3" height="19.2" fill="#226778"/>
<rect x="1273.4" y="645.3" width="19.3" height="19.2" fill="#226778"/>
<rect x="1304.9" y="645.3" width="19.3" height="19.2" fill="#226778"/>
<rect x="1336.4" y="645.3" width="19.3" height="19.2" fill="#226778"/>
<rect x="1367.9" y="645.3" width="19.3" height="19.2" fill="#226778"/>
<rect x="1399.4" y="645.3" width="19.3" height="19.2" fill="#226778"/>
<rect x="1430.8" y="645.3" width="19.3" height="19.2" fill="#226778"/>
<rect x="1462.3" y="645.3" width="19.3" height="19.2" fill="#226778"/>
<rect x="1493.8" y="645.3" width="19.3" height="19.2" fill="#226778"/>
<rect x="1525.3" y="645.3" width="19.3" height="19.2" fill="#226778"/>
<rect x="1179.0" y="674.5" width="19.3" height="19.2" fill="#226778"/>
<rect x="1210.5" y="674.5" width="19.3" height="19.2" fill="#226778"/>
<rect x="1242.0" y="674.5" width="19.3" height="19.2" fill="#226778"/>
<rect x="1273.4" y="674.5" width="19.3" height="19.2" fill="#226778"/>
<rect x="1304.9" y="674.5" width="19.3" height="19.2" fill="#226778"/>
<rect x="1336.4" y="674.5" width="19.3" height="19.2" fill="#226778"/>
<rect x="1367.9" y="674.5" width="19.3" height="19.2" fill="#226778"/>
<rect x="1399.4" y="674.5" width="19.3" height="19.2" fill="#226778"/>
<rect x="1430.8" y="674.5" width="19.3" height="19.2" fill="#226778"/>
<rect x="1462.3" y="674.5" width="19.3" height="19.2" fill="#226778"/>
<rect x="1493.8" y="674.5" width="19.3" height="19.2" fill="#226778"/>
<rect x="1525.3" y="674.5" width="19.3" height="19.2" fill="#226778"/>
<rect x="1179.0" y="703.7" width="19.3" height="19.2" fill="#226778"/>
<rect x="1210.5" y="703.7" width="19.3" height="19.2" fill="#226778"/>
<rect x="1242.0" y="703.7" width="19.3" height="19.2" fill="#226778"/>
<rect x="1273.4" y="703.7" width="19.3" height="19.2" fill="#226778"/>
<rect x="1304.9" y="703.7" width="19.3" height="19.2" fill="#226778"/>
<rect x="1336.4" y="703.7" width="19.3" height="19.2" fill="#226778"/>
<rect x="1367.9" y="703.7" width="19.3" height="19.2" fill="#226778"/>
<rect x="1399.4" y="703.7" width="19.3" height="19.2" fill="#226778"/>
<rect x="1430.8" y="703.7" width="19.3" height="19.2" fill="#226778"/>
<rect x="1462.3" y="703.7" width="19.3" height="19.2" fill="#226778"/>
<rect x="1493.8" y="703.7" width="19.3" height="19.2" fill="#226778"/>
<rect x="1525.3" y="703.7" width="19.3" height="19.2" fill="#226778"/>
<rect x="1179.0" y="732.9" width="19.3" height="19.2" fill="#226778"/>
<rect x="1210.5" y="732.9" width="19.3" height="19.2" fill="#226778"/>
<rect x="1242.0" y="732.9" width="19.3" height="19.2" fill="#226778"/>
<rect x="1273.4" y="732.9" width="19.3" height="19.2" fill="#226778"/>
<rect x="1304.9" y="732.9" width="19.3" height="19.2" fill="#226778"/>
<rect x="1336.4" y="732.9" width="19.3" height="19.2" fill="#226778"/>
<rect x="1367.9" y="732.9" width="19.3" height="19.2" fill="#226778"/>
<rect x="1399.4" y="732.9" width="19.3" height="19.2" fill="#226778"/>
<rect x="1430.8" y="732.9" width="19.3" height="19.2" fill="#226778"/>
<rect x="1462.3" y="732.9" width="19.3" height="19.2" fill="#226778"/>
<rect x="1493.8" y="732.9" width="19.3" height="19.2" fill="#226778"/>
<rect x="1525.3" y="732.9" width="19.3" height="19.2" fill="#226778"/>
<rect x="1179.0" y="762.1" width="19.3" height="19.2" fill="#226778"/>
<rect x="1210.5" y="762.1" width="19.3" height="19.2" fill="#226778"/>
<rect x="1242.0" y="762.1" width="19.3" height="19.2" fill="#226778"/>
<rect x="1273.4" y="762.1" width="19.3" height="19.2" fill="#a2aa5a"/>
<rect x="1304.9" y="762.1" width="19.3" height="19.2" fill="#a2aa5a"/>
<rect x="1336.4" y="762.1" width="19.3" height="19.2" fill="#a2aa5a"/>
<rect x="1367.9" y="762.1" width="19.3" height="19.2" fill="#a2aa5a"/>
<rect x="1399.4" y="762.1" width="19.3" height="19.2" fill="#a2aa5a"/>
<rect x="1430.8" y="762.1" width="19.3" height="19.2" fill="#a2aa5a"/>
<rect x="1462.3" y="762.1" width="19.3" height="19.2" fill="#a2aa5a"/>
<rect x="1493.8" y="762.1" width="19.3" height="19.2" fill="#a2aa5a"/>
<rect x="1525.3" y="762.1" width="19.3" height="19.2" fill="#a2aa5a"/>
<rect x="1179.0" y="791.3" width="19.3" height="19.2" fill="#a2aa5a"/>
<rect x="1210.5" y="791.3" width="19.3" height="19.2" fill="#a2aa5a"/>
<rect x="1242.0" y="791.3" width="19.3" height="19.2" fill="#a2aa5a"/>
<rect x="1273.4" y="791.3" width="19.3" height="19.2" fill="#a2aa5a"/>
<rect x="1304.9" y="791.3" width="19.3" height="19.2" fill="#a2aa5a"/>
<rect x="1336.4" y="791.3" width="19.3" height="19.2" fill="#a2aa5a"/>
<rect x="1367.9" y="791.3" width="19.3" height="19.2" fill="#a2aa5a"/>
<rect x="1399.4" y="791.3" width="19.3" height="19.2" fill="#a2aa5a"/>
<rect x="1430.8" y="791.3" width="19.3" height="19.2" fill="#a2aa5a"/>
<rect x="1462.3" y="791.3" width="19.3" height="19.2" fill="#a2aa5a"/>
<rect x="1493.8" y="791.3" width="19.3" height="19.2" fill="#a2aa5a"/>
<rect x="1525.3" y="791.3" width="19.3" height="19.2" fill="#a2aa5a"/>
<rect x="1179.0" y="820.5" width="19.3" height="19.2" fill="#a2aa5a"/>
<rect x="1210.5" y="820.5" width="19.3" height="19.2" fill="#a2aa5a"/>
<rect x="1242.0" y="820.5" width="19.3" height="19.2" fill="#a2aa5a"/>
<rect x="1273.4" y="820.5" width="19.3" height="19.2" fill="#a2aa5a"/>
<rect x="1304.9" y="820.5" width="19.3" height="19.2" fill="#a2aa5a"/>
<rect x="1336.4" y="820.5" width="19.3" height="19.2" fill="#a2aa5a"/>
<rect x="1367.9" y="820.5" width="19.3" height="19.2" fill="#a2aa5a"/>
<rect x="1399.4" y="820.5" width="19.3" height="19.2" fill="#a2aa5a"/>
<rect x="1430.8" y="820.5" width="19.3" height="19.2" fill="#a2aa5a"/>
<rect x="1462.3" y="820.5" width="19.3" height="19.2" fill="#a2aa5a"/>
<rect x="1493.8" y="820.5" width="19.3" height="19.2" fill="#a2aa5a"/>
<rect x="1525.3" y="820.5" width="19.3" height="19.2" fill="#a2aa5a"/>
<rect x="1179.0" y="849.7" width="19.3" height="19.2" fill="#a2aa5a"/>
<rect x="1210.5" y="849.7" width="19.3" height="19.2" fill="#a2aa5a"/>
<rect x="1242.0" y="849.7" width="19.3" height="19.2" fill="#a2aa5a"/>
<rect x="1273.4" y="849.7" width="19.3" height="19.2" fill="#a2aa5a"/>
<rect x="1304.9" y="849.7" width="19.3" height="19.2" fill="#a2aa5a"/>
<rect x="1336.4" y="849.7" width="19.3" height="19.2" fill="#a2aa5a"/>
<rect x="1367.9" y="849.7" width="19.3" height="19.2" fill="#a2aa5a"/>
<rect x="1399.4" y="849.7" width="19.3" height="19.2" fill="#a2aa5a"/>
<rect x="1430.8" y="849.7" width="19.3" height="19.2" fill="#a2aa5a"/>
<rect x="1462.3" y="849.7" width="19.3" height="19.2" fill="#a2aa5a"/>
<rect x="1493.8" y="849.7" width="19.3" height="19.2" fill="#a2aa5a"/>
<rect x="1525.3" y="849.7" width="19.3" height="19.2" fill="#a2aa5a"/>
<rect x="1179.0" y="878.9" width="19.3" height="19.2" fill="#a2aa5a"/>
<rect x="1210.5" y="878.9" width="19.3" height="19.2" fill="#7e6271"/>
<rect x="1242.0" y="878.9" width="19.3" height="19.2" fill="#7e6271"/>
<rect x="1273.4" y="878.9" width="19.3" height="19.2" fill="#7e6271"/>
<rect x="1304.9" y="878.9" width="19.3" height="19.2" fill="#7e6271"/>
<rect x="1336.4" y="878.9" width="19.3" height="19.2" fill="#7e6271"/>
<rect x="1367.9" y="878.9" width="19.3" height="19.2" fill="#7e6271"/>
<rect x="1399.4" y="878.9" width="19.3" height="19.2" fill="#7e6271"/>
<rect x="1430.8" y="878.9" width="19.3" height="19.2" fill="#cb881c"/>
<rect x="1462.3" y="878.9" width="19.3" height="19.2" fill="#cb881c"/>
<rect x="1493.8" y="878.9" width="19.3" height="19.2" fill="#cb881c"/>
<rect x="1525.3" y="878.9" width="19.3" height="19.2" fill="#cb881c"/>
<rect x="1179.0" y="908.0" width="19.3" height="19.2" fill="#cb881c"/>
<rect x="1210.5" y="908.0" width="19.3" height="19.2" fill="#cb881c"/>
<rect x="1242.0" y="908.0" width="19.3" height="19.2" fill="#cb881c"/>
<rect x="1273.4" y="908.0" width="19.3" height="19.2" fill="#cb881c"/>
<rect x="1304.9" y="908.0" width="19.3" height="19.2" fill="#cb881c"/>
<rect x="1336.4" y="908.0" width="19.3" height="19.2" fill="#cb881c"/>
<rect x="1367.9" y="908.0" width="19.3" height="19.2" fill="#cb881c"/>
<rect x="1399.4" y="908.0" width="19.3" height="19.2" fill="#cb881c"/>
<rect x="1430.8" y="908.0" width="19.3" height="19.2" fill="#cb881c"/>
<rect x="1462.3" y="908.0" width="19.3" height="19.2" fill="#cb881c"/>
<text x="1575.8" y="752.0" font-family="'Liberation Sans', sans-serif" font-size="24.74" fill="#226778" textLength="408.1" lengthAdjust="spacingAndGlyphs" stroke="#226778" stroke-width="0.9" stroke-linejoin="round">135 rassistisch motivierte Taten</text>
<text x="1577.4" y="809.5" font-family="'Liberation Sans', sans-serif" font-size="24.74" fill="#a2aa5a" textLength="515.3" lengthAdjust="spacingAndGlyphs" stroke="#a2aa5a" stroke-width="0.9" stroke-linejoin="round">46 Taten gegen politische Gegner*innen</text>
<text x="1576.5" y="867.5" font-family="'Liberation Sans', sans-serif" font-size="24.74" fill="#7e6271" textLength="416.2" lengthAdjust="spacingAndGlyphs" stroke="#7e6271" stroke-width="0.9" stroke-linejoin="round">7 antisemitisch motivierte Taten</text>
<text x="1575.8" y="926.5" font-family="'Liberation Sans', sans-serif" font-size="24.74" fill="#cb881c" textLength="656.5" lengthAdjust="spacingAndGlyphs" stroke="#cb881c" stroke-width="0.9" stroke-linejoin="round">14 Taten mit anderen menschenfeindlichen Motiven</text>
<text x="1187.7" y="1123.0" font-family="'Liberation Sans', sans-serif" font-size="60.04" fill="#4a6080" textLength="63.0" lengthAdjust="spacingAndGlyphs" stroke="#4a6080" stroke-width="1.4" stroke-linejoin="round">12</text>
<text x="1264.8" y="1123.5" font-family="'Liberation Sans', sans-serif" font-size="32.3" fill="#4a6080" textLength="329.3" lengthAdjust="spacingAndGlyphs" stroke="#4a6080" stroke-width="0.5" stroke-linejoin="round">versuchte Tötungen</text>
<text x="1666.9" y="1123.0" font-family="'Liberation Sans', sans-serif" font-size="60.04" fill="#4a6080" textLength="83.5" lengthAdjust="spacingAndGlyphs" stroke="#4a6080" stroke-width="1.4" stroke-linejoin="round">161</text>
<text x="1763.5" y="1123.5" font-family="'Liberation Sans', sans-serif" font-size="32.3" fill="#4a6080" textLength="331.2" lengthAdjust="spacingAndGlyphs" stroke="#4a6080" stroke-width="0.5" stroke-linejoin="round">Körperverletzungen</text>
<text x="1317.7" y="1206.3" font-family="'Liberation Sans', sans-serif" font-size="60.04" fill="#4a6080" textLength="63.6" lengthAdjust="spacingAndGlyphs" stroke="#4a6080" stroke-width="1.4" stroke-linejoin="round">15</text>
<text x="1394.1" y="1206.8" font-family="'Liberation Sans', sans-serif" font-size="32.3" fill="#4a6080" textLength="569.9" lengthAdjust="spacingAndGlyphs" stroke="#4a6080" stroke-width="0.5" stroke-linejoin="round">massive Bedrohungen/Nötigungen</text>
<text x="1176.0" y="1289.8" font-family="'Liberation Sans', sans-serif" font-size="60.04" fill="#4a6080" textLength="35.5" lengthAdjust="spacingAndGlyphs" stroke="#4a6080" stroke-width="1.4" stroke-linejoin="round">3</text>
<text x="1223.4" y="1290.2" font-family="'Liberation Sans', sans-serif" font-size="32.3" fill="#4a6080" textLength="492.3" lengthAdjust="spacingAndGlyphs" stroke="#4a6080" stroke-width="0.5" stroke-linejoin="round">massive Sachbeschädigungen</text>
<text x="1793.0" y="1289.8" font-family="'Liberation Sans', sans-serif" font-size="60.04" fill="#4a6080" textLength="37.9" lengthAdjust="spacingAndGlyphs" stroke="#4a6080" stroke-width="1.4" stroke-linejoin="round">5</text>
<text x="1841.7" y="1290.2" font-family="'Liberation Sans', sans-serif" font-size="32.3" fill="#4a6080" textLength="268.6" lengthAdjust="spacingAndGlyphs" stroke="#4a6080" stroke-width="0.5" stroke-linejoin="round">Brandstiftungen</text>
<text x="1443.3" y="1373.0" font-family="'Liberation Sans', sans-serif" font-size="60.04" fill="#4a6080" textLength="40.2" lengthAdjust="spacingAndGlyphs" stroke="#4a6080" stroke-width="1.4" stroke-linejoin="round">6</text>
<text x="1495.1" y="1373.5" font-family="'Liberation Sans', sans-serif" font-size="32.3" fill="#4a6080" textLength="346.1" lengthAdjust="spacingAndGlyphs" stroke="#4a6080" stroke-width="0.5" stroke-linejoin="round">sonstige Gewalttaten</text>
<rect x="78" y="1439.3" width="2182" height="3.6" fill="#7f7f7f"/>
<text x="82" y="1546.3" font-family="'Liberation Sans', sans-serif" font-size="23.5" textLength="151.5" lengthAdjust="spacingAndGlyphs"><tspan font-weight="bold" fill="#1e9b4c">N</tspan><tspan font-weight="bold" fill="#a9a9a9">R</tspan><tspan font-weight="bold" fill="#e2001a">W</tspan><tspan fill="#222">eltoffen</tspan></text>
<text x="298.3" y="1531.5" font-family="'DejaVu Sans', 'Liberation Sans', sans-serif" font-size="16.77" fill="#8dc0e8" font-weight="bold" textLength="131.7" lengthAdjust="spacingAndGlyphs" stroke="#8dc0e8" stroke-width="0.9" stroke-linejoin="round">demokratie</text>
<text x="297.5" y="1550.5" font-family="'DejaVu Sans', 'Liberation Sans', sans-serif" font-size="16.77" fill="#8dc0e8" font-weight="bold" textLength="64.6" lengthAdjust="spacingAndGlyphs" stroke="#8dc0e8" stroke-width="0.9" stroke-linejoin="round">leben</text>
<text x="450.1" y="1525.5" font-family="'Liberation Sans', sans-serif" font-size="10.5" fill="#222" textLength="73.3" lengthAdjust="spacingAndGlyphs">Landeszentrale</text>
<text x="450.8" y="1538.0" font-family="'Liberation Sans', sans-serif" font-size="10.5" fill="#222" font-weight="bold" textLength="102.8" lengthAdjust="spacingAndGlyphs">für politische Bildung</text>
<text x="450.3" y="1551.0" font-family="'Liberation Sans', sans-serif" font-size="10.5" fill="#222" font-weight="bold" textLength="99.3" lengthAdjust="spacingAndGlyphs">Nordrhein-Westfalen</text>
<path d="M575.09,1518.36 L618.84,1518.36 L618.84,1547.24 C618.84,1554.57 609.57,1562.33 597.07,1565.34 C584.57,1562.33 575.09,1554.57 575.09,1547.24 Z" fill="#fff" stroke="#262626" stroke-width="1"/>
<rect x="575.1" y="1517.9" width="43.7" height="1.3" fill="#262626"/>
<path d="M577.03,1520.30 L596.64,1520.30 L596.64,1548.10 C596.21,1552.41 592.76,1558.02 587.59,1560.82 C581.55,1555.86 577.03,1551.55 577.03,1545.95 Z" fill="#262626"/>
<path d="M592.76,1520.09 L596.72,1520.09 L596.72,1529.14 C594.48,1535.17 588.02,1541.64 580.26,1552.84 L576.90,1545.52 C580.26,1537.76 590.17,1530.86 592.76,1520.09 Z" fill="#fff"/>
<path d="M598.15,1520.30 L617.11,1520.30 L617.11,1547.24 C616.47,1552.41 611.72,1557.59 606.77,1560.39 C602.24,1556.72 598.79,1552.41 598.15,1548.10 Z" fill="#262626"/>
<polygon points="606.98,1522.24 611.72,1523.10 613.88,1526.55 613.45,1530.86 616.03,1534.31 616.47,1539.48 613.88,1542.93 614.74,1546.38 613.02,1553.71 610.86,1554.14 611.72,1548.10 608.71,1543.79 606.55,1548.10 602.24,1549.40 603.10,1546.38 606.98,1542.93 605.69,1539.48 603.10,1540.34 601.38,1536.90 603.53,1535.17 599.66,1533.45 600.09,1530.43 603.10,1529.14 603.53,1525.69" fill="#fff"/>
<circle cx="597.1" cy="1558.4" r="3.0" fill="#fff" stroke="#262626" stroke-width="1.5"/><circle cx="597.1" cy="1558.4" r="0.8" fill="#262626"/>
<text x="936.6" y="1498.4" font-family="'Liberation Serif', serif" font-size="11.64" fill="#262626" font-weight="bold" textLength="80.9" lengthAdjust="spacingAndGlyphs" stroke="#262626" stroke-width="0.7" stroke-linejoin="round">Gefördert vom</text>
<text x="1201.1" y="1498.2" font-family="'Liberation Serif', serif" font-size="11.64" fill="#262626" font-weight="bold" textLength="194.8" lengthAdjust="spacingAndGlyphs" stroke="#262626" stroke-width="0.7" stroke-linejoin="round">im Rahmen des Bundesprogramms</text>
<polygon points="941.56,1524.27 946.35,1525.04 947.98,1526.95 949.70,1525.04 954.02,1524.27 958.33,1529.83 962.16,1534.14 959.29,1541.33 956.41,1547.08 951.62,1546.12 947.79,1548.80 943.96,1546.12 939.16,1546.60 936.29,1541.33 933.89,1535.58 937.25,1529.83" fill="#303030"/>
<circle cx="943.5" cy="1527.8" r="0.9" fill="#fff"/><circle cx="951.8" cy="1527.8" r="0.9" fill="#fff"/><circle cx="942.5" cy="1543.5" r="0.8" fill="#fff"/><circle cx="953" cy="1543.5" r="0.8" fill="#fff"/>
<rect x="967.9" y="1524.1" width="5" height="22.2" fill="#303030"/><rect x="967.9" y="1546.1" width="5" height="24.1" fill="#e1251b"/><rect x="967.9" y="1570.1" width="5" height="23.9" fill="#f5d20a"/>
<text x="979.2" y="1533.2" font-family="'Liberation Sans', sans-serif" font-size="13.4" fill="#262626" font-weight="bold" textLength="96.2" lengthAdjust="spacingAndGlyphs">Bundesministerium</text>
<text x="979.7" y="1547.1" font-family="'Liberation Sans', sans-serif" font-size="13.4" fill="#262626" font-weight="bold" textLength="141.7" lengthAdjust="spacingAndGlyphs">für Familie, Senioren, Frauen</text>
<text x="979.3" y="1561.0" font-family="'Liberation Sans', sans-serif" font-size="13.4" fill="#262626" font-weight="bold" textLength="59.3" lengthAdjust="spacingAndGlyphs">und Jugend</text>
<text x="1202.7" y="1561.8" font-family="'Liberation Serif', serif" font-size="22.69" fill="#262626" textLength="113.0" lengthAdjust="spacingAndGlyphs" stroke="#262626" stroke-width="0.6" stroke-linejoin="round">Demokratie</text>
<text x="1320.5" y="1563" font-family="'Liberation Sans', sans-serif" font-size="28" font-weight="bold" font-style="italic" textLength="86" lengthAdjust="spacingAndGlyphs" stroke-width="0.8" stroke-linejoin="round"><tspan fill="#262626" stroke="#262626">l</tspan><tspan fill="#e30613" stroke="#e30613">e</tspan><tspan fill="#f9b000" stroke="#f9b000">b</tspan><tspan fill="#009fe3" stroke="#009fe3">e</tspan><tspan fill="#3aaa35" stroke="#3aaa35">n</tspan><tspan fill="#262626" stroke="#262626">!</tspan></text>
</svg></body></html>
